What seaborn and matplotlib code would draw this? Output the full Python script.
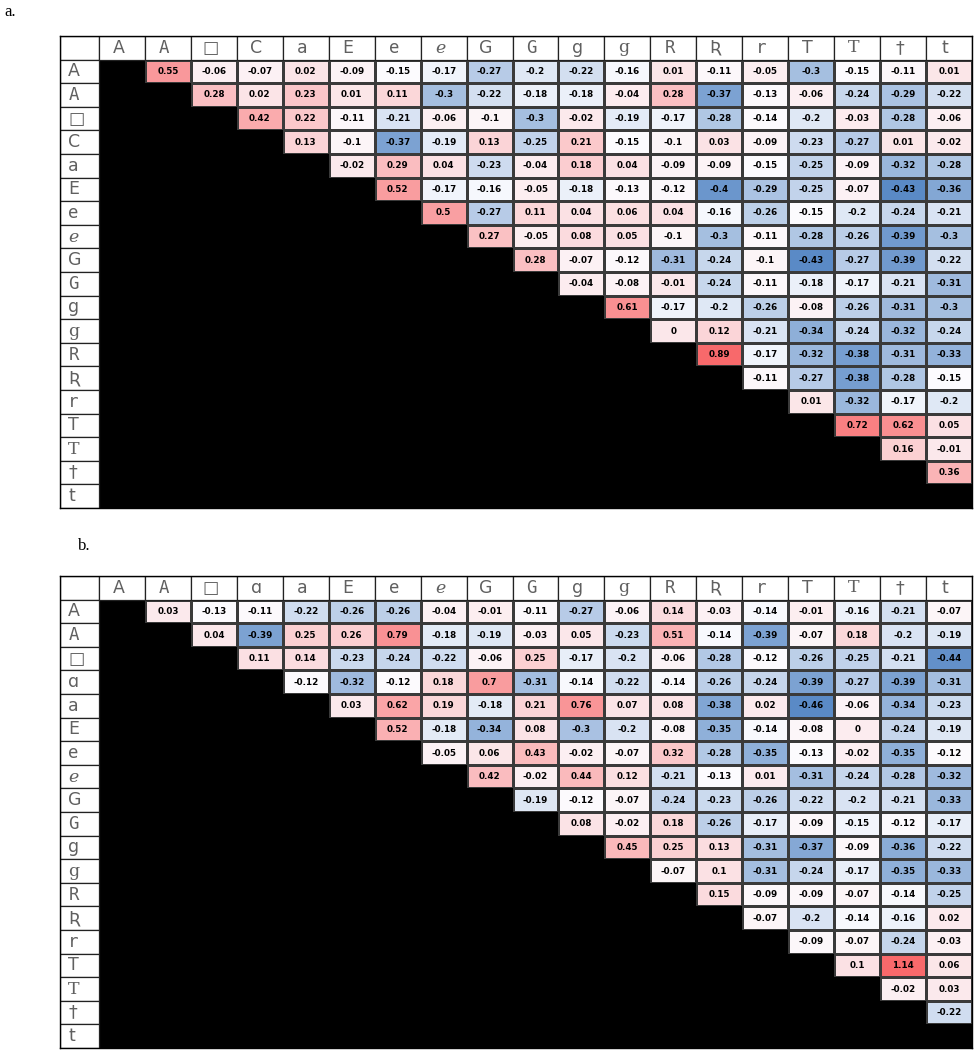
import numpy as np
import matplotlib
matplotlib.use("Agg")
import matplotlib.pyplot as plt
import seaborn as sns
from matplotlib.colors import LinearSegmentedColormap, TwoSlopeNorm
from matplotlib.patches import Rectangle, Polygon

# glyph labels (letter variants)
labels_a = ["A", "A", "□", "C", "a", "E", "e", "ℯ", "G", "G", "g", "g", "R", "Ʀ", "r", "T", "T", "†", "t"]
labels_b = ["A", "A", "□", "ɑ", "a", "E", "e", "ℯ", "G", "G", "g", "g", "R", "Ʀ", "r", "T", "T", "†", "t"]
label_fonts = ["DejaVu Sans", "DejaVu Sans Mono", "DejaVu Sans", "DejaVu Sans", "DejaVu Sans Mono",
               "DejaVu Sans", "DejaVu Sans Mono", "DejaVu Sans", "DejaVu Sans", "DejaVu Sans Mono",
               "DejaVu Sans", "DejaVu Serif", "DejaVu Sans Mono", "DejaVu Sans", "DejaVu Sans Mono",
               "DejaVu Sans", "DejaVu Serif", "DejaVu Sans", "DejaVu Sans"]

# upper-triangle values, row by row (row i holds columns i+1 .. 18)
upper_a = [
    [0.55, -0.06, -0.07, 0.02, -0.09, -0.15, -0.17, -0.27, -0.2, -0.22, -0.16, 0.01, -0.11, -0.05, -0.3, -0.15, -0.11, 0.01],
    [0.28, 0.02, 0.23, 0.01, 0.11, -0.3, -0.22, -0.18, -0.18, -0.04, 0.28, -0.37, -0.13, -0.06, -0.24, -0.29, -0.22],
    [0.42, 0.22, -0.11, -0.21, -0.06, -0.1, -0.3, -0.02, -0.19, -0.17, -0.28, -0.14, -0.2, -0.03, -0.28, -0.06],
    [0.13, -0.1, -0.37, -0.19, 0.13, -0.25, 0.21, -0.15, -0.1, 0.03, -0.09, -0.23, -0.27, 0.01, -0.02],
    [-0.02, 0.29, 0.04, -0.23, -0.04, 0.18, 0.04, -0.09, -0.09, -0.15, -0.25, -0.09, -0.32, -0.28],
    [0.52, -0.17, -0.16, -0.05, -0.18, -0.13, -0.12, -0.4, -0.29, -0.25, -0.07, -0.43, -0.36],
    [0.5, -0.27, 0.11, 0.04, 0.06, 0.04, -0.16, -0.26, -0.15, -0.2, -0.24, -0.21],
    [0.27, -0.05, 0.08, 0.05, -0.1, -0.3, -0.11, -0.28, -0.26, -0.39, -0.3],
    [0.28, -0.07, -0.12, -0.31, -0.24, -0.1, -0.43, -0.27, -0.39, -0.22],
    [-0.04, -0.08, -0.01, -0.24, -0.11, -0.18, -0.17, -0.21, -0.31],
    [0.61, -0.17, -0.2, -0.26, -0.08, -0.26, -0.31, -0.3],
    [0, 0.12, -0.21, -0.34, -0.24, -0.32, -0.24],
    [0.89, -0.17, -0.32, -0.38, -0.31, -0.33],
    [-0.11, -0.27, -0.38, -0.28, -0.15],
    [0.01, -0.32, -0.17, -0.2],
    [0.72, 0.62, 0.05],
    [0.16, -0.01],
    [0.36],
]

upper_b = [
    [0.03, -0.13, -0.11, -0.22, -0.26, -0.26, -0.04, -0.01, -0.11, -0.27, -0.06, 0.14, -0.03, -0.14, -0.01, -0.16, -0.21, -0.07],
    [0.04, -0.39, 0.25, 0.26, 0.79, -0.18, -0.19, -0.03, 0.05, -0.23, 0.51, -0.14, -0.39, -0.07, 0.18, -0.2, -0.19],
    [0.11, 0.14, -0.23, -0.24, -0.22, -0.06, 0.25, -0.17, -0.2, -0.06, -0.28, -0.12, -0.26, -0.25, -0.21, -0.44],
    [-0.12, -0.32, -0.12, 0.18, 0.7, -0.31, -0.14, -0.22, -0.14, -0.26, -0.24, -0.39, -0.27, -0.39, -0.31],
    [0.03, 0.62, 0.19, -0.18, 0.21, 0.76, 0.07, 0.08, -0.38, 0.02, -0.46, -0.06, -0.34, -0.23],
    [0.52, -0.18, -0.34, 0.08, -0.3, -0.2, -0.08, -0.35, -0.14, -0.08, 0, -0.24, -0.19],
    [-0.05, 0.06, 0.43, -0.02, -0.07, 0.32, -0.28, -0.35, -0.13, -0.02, -0.35, -0.12],
    [0.42, -0.02, 0.44, 0.12, -0.21, -0.13, 0.01, -0.31, -0.24, -0.28, -0.32],
    [-0.19, -0.12, -0.07, -0.24, -0.23, -0.26, -0.22, -0.2, -0.21, -0.33],
    [0.08, -0.02, 0.18, -0.26, -0.17, -0.09, -0.15, -0.12, -0.17],
    [0.45, 0.25, 0.13, -0.31, -0.37, -0.09, -0.36, -0.22],
    [-0.07, 0.1, -0.31, -0.24, -0.17, -0.35, -0.33],
    [0.15, -0.09, -0.09, -0.07, -0.14, -0.25],
    [-0.07, -0.2, -0.14, -0.16, 0.02],
    [-0.09, -0.07, -0.24, -0.03],
    [0.1, 1.14, 0.06],
    [-0.02, 0.03],
    [-0.22],
]

cmap = LinearSegmentedColormap.from_list("excel_bwr", ["#5A8AC6", "#FCFCFF", "#F8696B"])
W, H = 974, 1050


def build(upper):
    n = len(upper) + 1
    m = np.full((n, n), np.nan)
    for i, row in enumerate(upper):
        for k, v in enumerate(row):
            m[i, i + 1 + k] = v
    return m


def fmt(v):
    if np.isnan(v):
        return ""
    return f"{v:g}"


def draw_panel(fig, rect, upper, labels):
    ax = fig.add_axes(rect)
    ax.set_facecolor("black")
    m = build(upper)
    n = m.shape[0]
    mask = np.isnan(m)
    vals = m[~mask]
    norm = TwoSlopeNorm(vmin=vals.min(), vcenter=np.median(vals), vmax=vals.max())
    annot = np.vectorize(fmt)(m)
    sns.heatmap(m, mask=mask, cmap=cmap, norm=norm, cbar=False, ax=ax,
                linewidths=0.9, linecolor="#3a3a3a",
                annot=annot, fmt="",
                annot_kws=dict(fontsize=6.3, fontweight="bold", color="black"))
    # solid black lower triangle (incl. diagonal), no grid lines
    pts = [(0, 0)]
    for i in range(n):
        pts += [(i + 1, i), (i + 1, i + 1)]
    pts += [(0, n)]
    ax.add_patch(Polygon(pts, closed=True, facecolor="black", edgecolor="none", zorder=1.5))
    lw_col = 0.85
    ax.set_xlim(-lw_col, n)
    ax.set_ylim(n, -1)
    # header row & label column
    ax.add_patch(Rectangle((-lw_col, -1), lw_col, 1, facecolor="white", edgecolor="#222", lw=0.9, zorder=2))
    for j in range(n):
        ax.add_patch(Rectangle((j, -1), 1, 1, facecolor="white", edgecolor="#222", lw=0.9, zorder=2))
        ax.text(j + 0.42, -0.5, labels[j], ha="center", va="center", fontsize=12.5,
                color="#606060", family=label_fonts[j], zorder=3)
    for i in range(n):
        ax.add_patch(Rectangle((-lw_col, i), lw_col, 1, facecolor="white", edgecolor="#222", lw=0.9, zorder=2))
        ax.text(-lw_col + 0.18, i + 0.5, labels[i], ha="left", va="center", fontsize=12.5,
                color="#606060", family=label_fonts[i], zorder=3)
    ax.set_xticks([])
    ax.set_yticks([])
    ax.set_xlabel("")
    ax.set_ylabel("")
    for s in ax.spines.values():
        s.set_visible(True)
        s.set_color("black")
        s.set_linewidth(1.0)
        s.set_zorder(4)
    return ax


fig = plt.figure(figsize=(W / 100, H / 100), dpi=100)
fig.patch.set_facecolor("white")

draw_panel(fig, [60 / W, 1 - 508 / H, 912 / W, 472 / H], upper_a, labels_a)
draw_panel(fig, [60 / W, 1 - 1048 / H, 912 / W, 472 / H], upper_b, labels_b)

fig.text(4 / W, 1 - 12 / H, "a.", fontsize=12, family="Liberation Serif", ha="left", va="center")
fig.text(78 / W, 1 - 546 / H, "b.", fontsize=12, family="Liberation Serif", ha="left", va="center")

fig.savefig("out.png", dpi=100, facecolor="white")
